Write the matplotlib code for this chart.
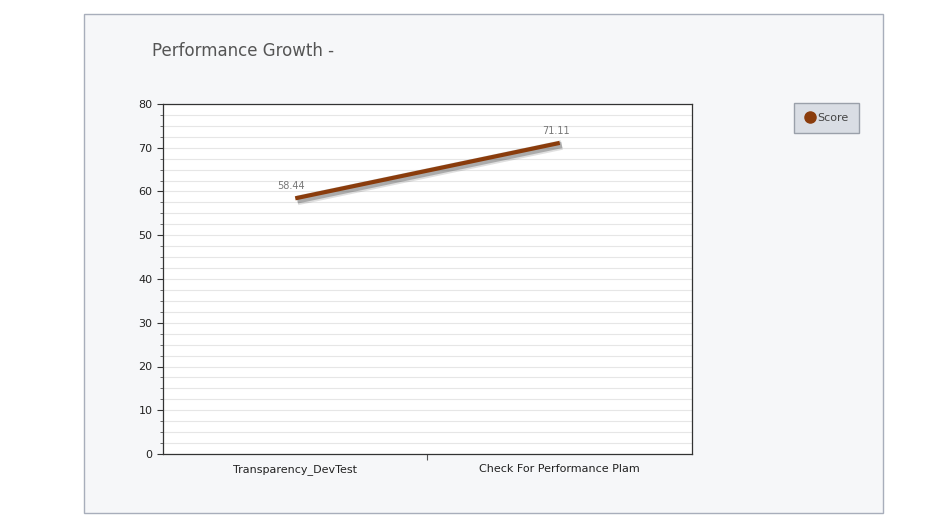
import numpy as np
from matplotlib import pyplot as plt
from matplotlib.patches import Rectangle
import matplotlib.patheffects as pe

categories = ['Transparency_DevTest', 'Check For Performance Plam']
scores = [58.44, 71.11]
series_name = 'Score'

W, H = 929, 527
fig = plt.figure(figsize=(W / 100, H / 100), dpi=100)
fig.patch.set_facecolor('white')

# outer panel, kept behind the axes
fig.patches.append(Rectangle((84 / W, 1 - 513 / H), (883 - 84) / W, (513 - 14) / H,
                             transform=fig.transFigure, facecolor='#f6f7f9',
                             edgecolor='#a8aebb', linewidth=1, zorder=-10))

ax = fig.add_axes([163 / W, 1 - 454 / H, (692 - 163) / W, (454 - 104) / H])
ax.set_facecolor('white')
x = np.arange(len(categories))
shadow = [pe.SimpleLineShadow(offset=(1.5, -1.5), shadow_color='#333333', alpha=0.15, linewidth=7),
          pe.SimpleLineShadow(offset=(1.5, -1.5), shadow_color='#333333', alpha=0.3, linewidth=4.5),
          pe.Normal()]
line, = ax.plot(x, scores, color='#8a3c0c', linewidth=3, solid_capstyle='butt',
                label=series_name, path_effects=shadow)
for xi, v in zip(x, scores):
    ax.annotate(f'{v:.2f}', (xi, v), xytext=(-3, 5), textcoords='offset points',
                ha='center', va='bottom', fontsize=7, color='#777777')

ax.set_xlim(-0.5, 1.5)
ax.set_ylim(0, 80)
ax.set_yticks(np.arange(0, 81, 10))
ax.set_yticks(np.arange(0, 81, 2.5), minor=True)
ax.yaxis.grid(True, which='both', color='#e6e6e6', linewidth=0.8)
ax.set_axisbelow(True)
ax.set_xticks([0.5])
ax.set_xticklabels([''])
for xi, c in zip(x, categories):
    ax.text(xi, -0.03, c, transform=ax.get_xaxis_transform(), ha='center', va='top',
            fontsize=8, color='#222222')
ax.tick_params(axis='y', labelsize=8, length=4, color='#333333', labelcolor='#222222')
ax.tick_params(axis='y', which='minor', length=2, color='#555555')
ax.tick_params(axis='x', length=4, color='#555555')
for s in ax.spines.values():
    s.set_color('#333333')
    s.set_linewidth(0.9)

fig.text(152 / W, 1 - 51 / H, 'Performance Growth -', fontsize=12, color='#555555',
         ha='left', va='center')

leg = fig.legend(handles=[plt.Line2D([], [], marker='o', linestyle='none', color='#8a3c0c',
                                     markersize=8)],
                 labels=[series_name], loc='upper left',
                 bbox_to_anchor=(794 / W, 1 - 103 / H), fontsize=8, frameon=True,
                 fancybox=False, handletextpad=0.2, borderpad=0.9, handlelength=1.0,
                 borderaxespad=0)
leg.get_frame().set_facecolor('#d9dde4')
leg.get_frame().set_edgecolor('#9aa0aa')
leg.get_frame().set_alpha(1)
for t in leg.get_texts():
    t.set_color('#444444')

fig.savefig('out.png', dpi=100)
